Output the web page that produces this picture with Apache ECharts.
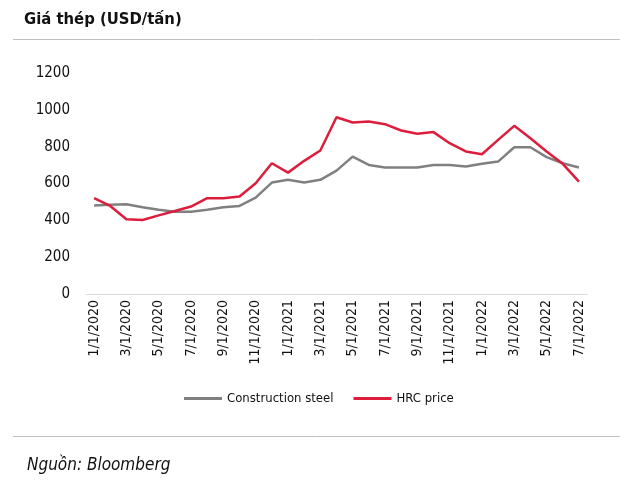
<!DOCTYPE html>
<html>
<head>
<meta charset="utf-8">
<script src="https://cdn.jsdelivr.net/npm/echarts@6/dist/echarts.min.js"></script>
<style>
html,body{margin:0;padding:0;background:#fff;}
#c{width:624px;height:482px;}
</style>
</head>
<body>
<div id="c"></div>
<script>
const months = ["1/1/2020","2/1/2020","3/1/2020","4/1/2020","5/1/2020","6/1/2020","7/1/2020","8/1/2020","9/1/2020","10/1/2020","11/1/2020","12/1/2020",
"1/1/2021","2/1/2021","3/1/2021","4/1/2021","5/1/2021","6/1/2021","7/1/2021","8/1/2021","9/1/2021","10/1/2021","11/1/2021","12/1/2021",
"1/1/2022","2/1/2022","3/1/2022","4/1/2022","5/1/2022","6/1/2022","7/1/2022"];
const constructionSteel = [480,484,487,471,457,446,447,457,471,478,523,605,620,605,620,670,746,701,687,687,687,701,701,692,707,719,797,797,743,710,687];
const hrcPrice = [520,478,406,402,427,451,475,520,520,529,601,710,659,723,779,960,931,937,922,888,870,879,819,774,759,837,913,846,774,707,610];
const yTicks = [0,200,400,600,800,1000,1200];
const seriesNames = ["Construction steel","HRC price"];

const FONT = '"Liberation Sans Narrow","Arial Narrow","DejaVu Sans Condensed","Liberation Sans",Arial,sans-serif';
const chart = echarts.init(document.getElementById('c'), null, {renderer:'canvas'});
chart.setOption({
  animation:false,
  backgroundColor:'#fff',
  title:[
    {text:'Giá thép (USD/tấn)', left:19, top:6, textStyle:{fontFamily:FONT, fontSize:16.5, fontWeight:'bold', color:'#111'}},
    {text:'Nguồn: Bloomberg', left:22, top:452, textStyle:{fontFamily:FONT, fontSize:17, fontStyle:'italic', fontWeight:'normal', color:'#111'}}
  ],
  graphic:[
    {type:'line', shape:{x1:13,y1:39.5,x2:620,y2:39.5}, style:{stroke:'#c0c0c0', lineWidth:1}},
    {type:'line', shape:{x1:13,y1:436.5,x2:620,y2:436.5}, style:{stroke:'#c0c0c0', lineWidth:1}}
  ],
  legend:{
    data:seriesNames, top:387, left:179, itemWidth:38, itemHeight:3, itemGap:20,
    icon:'rect',
    textStyle:{fontFamily:FONT, fontSize:13, color:'#111'}
  },
  grid:{left:86, right:37, top:73, bottom:188},
  xAxis:{
    type:'category', data:months, boundaryGap:true,
    axisLine:{lineStyle:{color:'#d9d9d9', width:1}},
    axisTick:{interval:1, length:5, lineStyle:{color:'#d9d9d9'}},
    axisLabel:{interval:1, rotate:90, fontFamily:FONT, fontSize:14, color:'#111', margin:6}
  },
  yAxis:{
    type:'value', min:0, max:1200, interval:200,
    axisLine:{show:false}, axisTick:{show:false}, splitLine:{show:false},
    axisLabel:{fontFamily:FONT, fontSize:15, color:'#111', margin:16,
      formatter:v=>yTicks.includes(v)?String(v):''}
  },
  series:[
    {name:seriesNames[0], type:'line', data:constructionSteel, symbol:'none', lineStyle:{color:'#808080', width:2.5}, itemStyle:{color:'#808080'}},
    {name:seriesNames[1], type:'line', data:hrcPrice, symbol:'none', lineStyle:{color:'#dc1e3c', width:2.5}, itemStyle:{color:'#dc1e3c'}}
  ]
});
</script>
</body>
</html>
